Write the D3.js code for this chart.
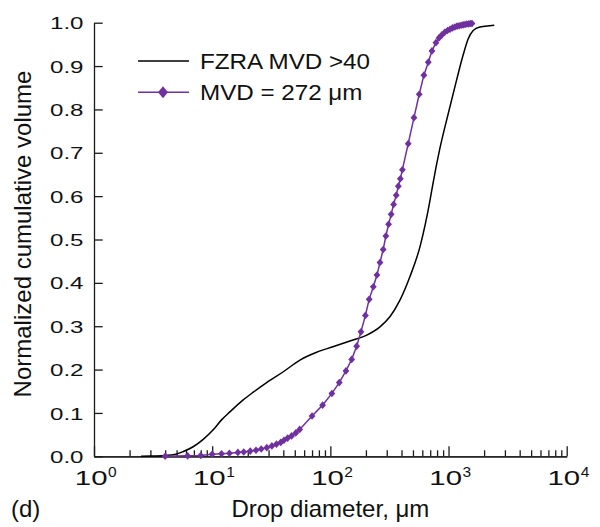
<!DOCTYPE html>
<html lang="en">
<head>
    <meta charset="UTF-8">
    <title>Normalized cumulative volume</title>
    <script src="https://cdnjs.cloudflare.com/ajax/libs/d3/7.8.5/d3.min.js"></script>
    <style>
        body {
            margin: 0;
            background: #fff;
        }
        svg {
            display: block;
            font-family: "Liberation Sans", Arial, sans-serif;
        }
    </style>
</head>
<body>
    <div id="wrapper"></div>
    <script>
        // FZRA MVD >40 (black line)
        const fzraDiameter = [2.5, 3, 4, 4.8, 5.7, 6.9, 8.4, 10.2, 12, 14.2, 18.3, 22.3, 28.9, 40, 55.3, 76.6, 105, 146.5, 203, 263, 319, 388, 471, 573, 697, 734, 845, 994, 1171, 1331, 1468, 1618, 1845, 2240, 2440]
        const fzraVolume = [0, 0.0005, 0.002, 0.004, 0.011, 0.022, 0.039, 0.061, 0.084, 0.103, 0.130, 0.148, 0.170, 0.195, 0.222, 0.240, 0.2525, 0.266, 0.2795, 0.2986, 0.3217, 0.360, 0.414, 0.483, 0.59, 0.625, 0.710, 0.790, 0.868, 0.926, 0.963, 0.982, 0.990, 0.993, 0.994]

        // MVD = 272 um (purple, diamonds)
        const mvdDiameter = [4, 6.2, 8, 10, 12, 14, 16.5, 18.5, 21, 23.5, 26, 29, 32, 35, 38, 40.5, 43.5, 47, 51, 55, 70, 86, 103, 119, 135.5, 151.5, 167, 181.5, 198, 213, 231, 248, 263, 280, 295, 311, 327, 343, 361, 376, 391, 407, 456, 510, 565, 619, 674, 724, 782, 830, 880, 930, 980, 1030, 1080, 1130, 1180, 1230, 1280, 1330, 1380, 1430, 1480, 1530, 1580]
        const mvdVolume = [0, 0.001, 0.002, 0.005, 0.006, 0.007, 0.009, 0.010, 0.012, 0.014, 0.017, 0.020, 0.024, 0.028, 0.032, 0.037, 0.042, 0.047, 0.054, 0.062, 0.093, 0.118, 0.145, 0.170, 0.197, 0.2235, 0.254, 0.287, 0.325, 0.362, 0.391, 0.418, 0.447, 0.477, 0.508, 0.535, 0.558, 0.581, 0.602, 0.623, 0.640, 0.661, 0.721, 0.781, 0.835, 0.879, 0.909, 0.935, 0.954, 0.965, 0.972, 0.978, 0.982, 0.985, 0.988, 0.990, 0.992, 0.993, 0.994, 0.995, 0.996, 0.997, 0.997, 0.998, 0.998]

        const yTicks = [0, 0.1, 0.2, 0.3, 0.4, 0.5, 0.6, 0.7, 0.8, 0.9, 1.0]
        const xExponents = [0, 1, 2, 3, 4]
        const seriesNames = ['FZRA MVD >40', 'MVD = 272 \u03bcm']

        function drawChart() {
            const purple = '#7030a0'
            let dimensions = {
                width: 600,
                height: 527,
                margin: { top: 22.7, right: 33.3, bottom: 70.7, left: 94 }
            }
            dimensions.boundedWidth = dimensions.width - dimensions.margin.left - dimensions.margin.right
            dimensions.boundedHeight = dimensions.height - dimensions.margin.top - dimensions.margin.bottom

            const svg = d3.select('#wrapper')
                .append('svg')
                .attr('width', dimensions.width)
                .attr('height', dimensions.height)

            const bounds = svg.append('g')
                .attr('transform', `translate(${dimensions.margin.left},${dimensions.margin.top})`)

            // scales
            const xScale = d3.scaleLog()
                .domain([1, 1e4])
                .range([0, dimensions.boundedWidth])
            const yScale = d3.scaleLinear()
                .domain([0, 1])
                .range([dimensions.boundedHeight, 0])

            // x axis: major + minor ticks pointing inward
            const minorTicks = []
            xExponents.slice(0, -1).forEach(k => {
                for (let m = 2; m <= 9; m++) minorTicks.push(m * Math.pow(10, k))
            })
            bounds.append('g')
                .attr('transform', `translate(0,${dimensions.boundedHeight})`)
                .call(d3.axisBottom(xScale).tickValues(minorTicks).tickSizeInner(-6).tickSizeOuter(0).tickFormat(''))
            bounds.append('g')
                .attr('transform', `translate(0,${dimensions.boundedHeight})`)
                .call(d3.axisBottom(xScale).tickValues(xExponents.map(e => Math.pow(10, e))).tickSizeInner(-10).tickSizeOuter(0).tickFormat(''))
            bounds.selectAll('.domain, .tick line')
                .attr('stroke', '#1a1a1a')
                .attr('stroke-width', 1.3)

            // x tick labels "10" with superscript
            const xLabels = bounds.append('g')
                .selectAll('g')
                .data(xExponents)
                .join('g')
                .attr('transform', e => `translate(${xScale(Math.pow(10, e)) + 13.5},${dimensions.boundedHeight + 28.7})`)
            xLabels.append('text')
                .attr('text-anchor', 'end')
                .attr('transform', 'scale(1.4,1)')
                .attr('font-size', 21)
                .attr('fill', '#111')
                .text('10')
            xLabels.append('text')
                .attr('x', 0.5)
                .attr('y', -8)
                .attr('font-size', 15.5)
                .attr('fill', '#111')
                .text(e => e)

            // y axis
            const yAxis = bounds.append('g')
                .call(d3.axisLeft(yScale).tickValues(yTicks).tickSizeInner(-8.7).tickSizeOuter(0).tickFormat(d3.format('.1f')))
            yAxis.selectAll('.domain, .tick line')
                .attr('stroke', '#1a1a1a')
                .attr('stroke-width', 1.3)
            yAxis.selectAll('.tick text')
                .attr('x', 0)
                .attr('dy', '0.36em')
                .attr('transform', 'translate(-10.5,0) scale(1.42,1)')
                .attr('font-size', 17)
                .attr('font-family', '"Liberation Sans", Arial, sans-serif')
                .attr('fill', '#111')

            // lines
            const fzra = fzraDiameter.map((d, i) => ({ d, v: fzraVolume[i] }))
            const mvd = mvdDiameter.map((d, i) => ({ d, v: mvdVolume[i] }))

            const smoothLine = d3.line()
                .x(p => xScale(p.d))
                .y(p => yScale(p.v))
                .curve(d3.curveMonotoneX)
            const straightLine = d3.line()
                .x(p => xScale(p.d))
                .y(p => yScale(p.v))

            bounds.append('path')
                .datum(fzra)
                .attr('d', smoothLine)
                .attr('fill', 'none')
                .attr('stroke', '#000')
                .attr('stroke-width', 1.5)

            bounds.append('path')
                .datum(mvd)
                .attr('d', straightLine)
                .attr('fill', 'none')
                .attr('stroke', purple)
                .attr('stroke-width', 1.5)

            const diamond = (w, h) => `M0,${-h}L${w},0L0,${h}L${-w},0Z`
            bounds.append('g')
                .selectAll('path')
                .data(mvd)
                .join('path')
                .attr('transform', p => `translate(${xScale(p.d)},${yScale(p.v)})`)
                .attr('d', diamond(3.4, 3.8))
                .attr('fill', purple)

            // legend
            const legend = svg.append('g')
            legend.append('line')
                .attr('x1', 138).attr('x2', 189)
                .attr('y1', 61).attr('y2', 61)
                .attr('stroke', '#000')
                .attr('stroke-width', 1.3)
            legend.append('text')
                .attr('transform', 'translate(200,68.5) scale(1.1,1)')
                .attr('font-size', 22)
                .attr('fill', '#111')
                .text(seriesNames[0])
            legend.append('line')
                .attr('x1', 138).attr('x2', 189)
                .attr('y1', 92.3).attr('y2', 92.3)
                .attr('stroke', purple)
                .attr('stroke-width', 1.5)
            legend.append('path')
                .attr('transform', 'translate(163,92.3)')
                .attr('d', diamond(5, 6))
                .attr('fill', purple)
            legend.append('text')
                .attr('transform', 'translate(200,100) scale(1.1,1)')
                .attr('font-size', 22)
                .attr('fill', '#111')
                .text(seriesNames[1])

            // axis titles
            svg.append('text')
                .attr('x', dimensions.margin.left + dimensions.boundedWidth / 2)
                .attr('y', 516.5)
                .attr('text-anchor', 'middle')
                .attr('font-size', 24)
                .attr('fill', '#111')
                .text('Drop diameter, \u03bcm')

            svg.append('text')
                .attr('transform', 'translate(31,234) rotate(-90)')
                .attr('text-anchor', 'middle')
                .attr('font-size', 24)
                .attr('fill', '#111')
                .text('Normalized cumulative volume')

            svg.append('text')
                .attr('x', 11)
                .attr('y', 516.5)
                .attr('font-size', 24)
                .attr('fill', '#111')
                .text('(d)')
        }

        drawChart()
    </script>
</body>
</html>
